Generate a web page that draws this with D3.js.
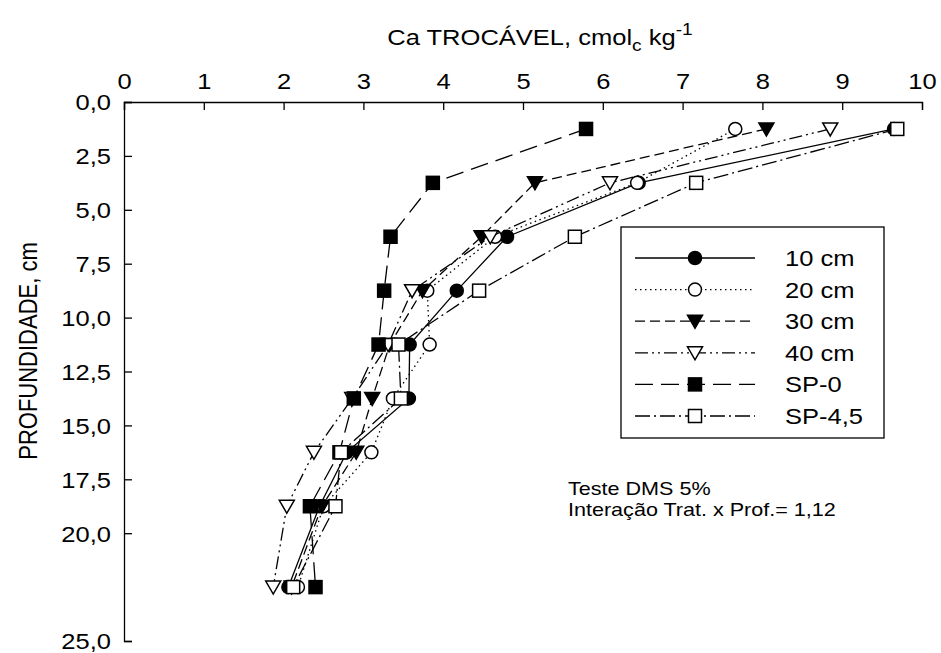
<!DOCTYPE html>
<html>
<head>
<meta charset="utf-8">
<script src="https://cdn.jsdelivr.net/npm/d3@7"></script>
<style>
  body { margin: 0; background: #fff; }
  svg { font-family: "Liberation Sans", Arial, sans-serif; }
</style>
</head>
<body>
<div id="chart"></div>
<script>
// depth of each sampled layer (cm)
const depths = [1.25, 3.75, 6.25, 8.75, 11.25, 13.75, 16.25, 18.75, 22.5];

// exchangeable Ca per treatment (cmolc/kg)
const cm10 = [9.65, 6.45, 4.80, 4.17, 3.58, 3.57, 2.79, 2.45, 2.06];
const cm20 = [7.66, 6.43, 4.65, 3.80, 3.83, 3.37, 3.10, 2.50, 2.18];
const cm30 = [8.05, 5.15, 4.48, 3.74, 3.33, 3.11, 2.91, 2.48, 2.10];
const cm40 = [8.85, 6.09, 4.59, 3.61, 3.31, 2.86, 2.38, 2.04, 1.87];
const sp0  = [5.79, 3.87, 3.34, 3.26, 3.19, 2.88, 2.70, 2.33, 2.40];
const sp45 = [9.69, 7.17, 5.65, 4.45, 3.44, 3.47, 2.72, 2.65, 2.12];

const seriesNames = ["10 cm", "20 cm", "30 cm", "40 cm", "SP-0", "SP-4,5"];
const xTicks = [0, 1, 2, 3, 4, 5, 6, 7, 8, 9, 10];
const yTicks = [0, 2.5, 5, 7.5, 10, 12.5, 15, 17.5, 20, 25];

const series = [
  { name: seriesNames[0], values: cm10, shape: "circle", filled: true, dash: null },
  { name: seriesNames[1], values: cm20, shape: "circle", filled: false, dash: "1.5,3.5" },
  { name: seriesNames[2], values: cm30, shape: "triangle", filled: true, dash: "10,5" },
  { name: seriesNames[3], values: cm40, shape: "triangle", filled: false, dash: "13,4,2,4,2,4" },
  { name: seriesNames[4], values: sp0, shape: "square", filled: true, dash: "18,8" },
  { name: seriesNames[5], values: sp45, shape: "square", filled: false, dash: "15,4,2,4" }
];

const width = 941;
const height = 653;
const margin = { top: 102, left: 124, right: 19, bottom: 12 };
const fs = 22;
const S = 1.16; // the original text is a little wider than Arial

// widen a text element around its own x anchor
function widen(sel) {
  sel.attr("transform", function () {
    const x0 = +this.getAttribute("x") || 0;
    return `translate(${x0 * (1 - S)},0) scale(${S},1)`;
  });
}

const svg = d3.select("#chart")
  .append("svg")
  .attr("width", width)
  .attr("height", height);

const x = d3.scaleLinear().domain([0, 10]).range([margin.left, width - margin.right]);
const y = d3.scaleLinear().domain([0, 25]).range([margin.top, height - margin.bottom]);

// top axis, ticks pointing inward
const xAxis = svg.append("g")
  .attr("transform", `translate(0,${margin.top})`)
  .call(d3.axisTop(x).tickValues(xTicks).tickSize(-8).tickPadding(13).tickFormat(d3.format("d")));

const yAxis = svg.append("g")
  .attr("transform", `translate(${margin.left},0)`)
  .call(d3.axisLeft(y).tickValues(yTicks).tickSize(-8).tickPadding(13)
    .tickFormat(d => d3.format(".1f")(d).replace(".", ",")));

[xAxis, yAxis].forEach(ax => {
  ax.select(".domain").attr("stroke", "#000").attr("stroke-width", 1.3);
  ax.selectAll(".tick line").attr("stroke", "#000").attr("stroke-width", 1.3);
  ax.selectAll(".tick text").attr("font-size", fs).attr("fill", "#000")
    .attr("font-family", "Liberation Sans, Arial, sans-serif");
});
xAxis.selectAll(".tick text").attr("dy", "0em").call(widen);
yAxis.selectAll(".tick text").attr("dy", "0.36em").call(widen);

// axis titles
const title = svg.append("text")
  .attr("x", 540)
  .attr("y", 45)
  .attr("text-anchor", "middle")
  .attr("font-size", fs);
title.append("tspan").text("Ca TROCÁVEL, cmol");
title.append("tspan").attr("font-size", fs * 0.75).attr("dy", 6).text("c");
title.append("tspan").attr("dy", -6).text(" kg");
title.append("tspan").attr("font-size", fs * 0.75).attr("dy", -10).text("-1");
title.call(widen);

svg.append("text")
  .attr("transform", `translate(37,351) rotate(-90) scale(1,${S})`)
  .attr("text-anchor", "middle")
  .attr("font-size", fs)
  .text("PROFUNDIDADE, cm");

// marker drawing
function drawMarker(sel, shape, filled) {
  let m;
  if (shape === "circle") {
    m = sel.append("circle").attr("r", 6.5);
  } else if (shape === "square") {
    m = sel.append("rect").attr("x", -6.5).attr("y", -6.5).attr("width", 13).attr("height", 13);
  } else {
    m = sel.append("path").attr("d", "M-7.5,-6 L7.5,-6 L0,7 Z");
  }
  m.attr("fill", filled ? "#000" : "#fff")
    .attr("stroke", "#000")
    .attr("stroke-width", 1.5);
}

const line = d3.line()
  .x(d => x(d.v))
  .y(d => y(d.depth));

series.forEach(s => {
  const pts = s.values.map((v, i) => ({ v: v, depth: depths[i] }));
  const g = svg.append("g");
  g.append("path")
    .datum(pts)
    .attr("d", line)
    .attr("fill", "none")
    .attr("stroke", "#000")
    .attr("stroke-width", 1.3)
    .attr("stroke-dasharray", s.dash);
  pts.forEach(p => {
    const mg = g.append("g").attr("transform", `translate(${x(p.v)},${y(p.depth)})`);
    drawMarker(mg, s.shape, s.filled);
  });
});

// legend
const legend = svg.append("g").attr("transform", "translate(621,227)");
legend.append("rect")
  .attr("width", 263)
  .attr("height", 211)
  .attr("fill", "#fff")
  .attr("stroke", "#000")
  .attr("stroke-width", 1.3);

series.forEach((s, i) => {
  const row = legend.append("g").attr("transform", `translate(0,${31 + i * 31.6})`);
  row.append("line")
    .attr("x1", 14).attr("x2", 134)
    .attr("stroke", "#000")
    .attr("stroke-width", 1.3)
    .attr("stroke-dasharray", s.dash);
  const mg = row.append("g").attr("transform", "translate(74,0)");
  drawMarker(mg, s.shape, s.filled);
  row.append("text")
    .attr("x", 164)
    .attr("dy", "0.36em")
    .attr("font-size", fs)
    .text(s.name)
    .call(widen);
});

// significance note
const note = svg.append("text").attr("x", 568).attr("y", 495).attr("font-size", 18.6);
note.append("tspan").attr("x", 568).text("Teste DMS 5%");
note.append("tspan").attr("x", 568).attr("dy", 21).text("Interação Trat. x Prof.= 1,12");
note.call(widen);
</script>
</body>
</html>
